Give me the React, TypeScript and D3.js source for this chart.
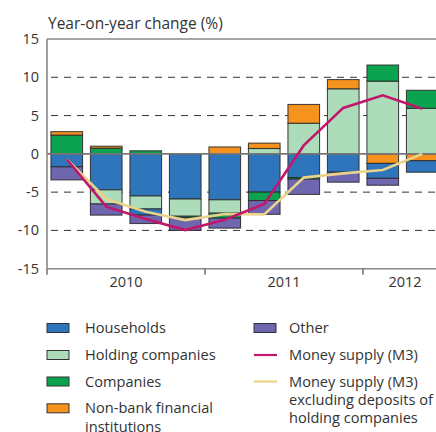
import React from "react";
import * as d3 from "d3";

const quarters = ["2010Q1","2010Q2","2010Q3","2010Q4","2011Q1","2011Q2","2011Q3","2011Q4","2012Q1","2012Q2"];
const households = [-1.7, -4.7, -5.5, -5.9, -6.0, -5.0, -3.1, -2.4, -1.95, -1.5];
const householdsLower = [0, 0, -0.8, 0, 0, 0, 0, 0, 0, 0];
const holding = [0, -1.85, -1.7, -2.25, -1.75, 0.7, 4.0, 8.5, 9.5, 5.95];
const companies = [2.45, 0.75, 0.4, -0.2, -0.65, -1.1, -0.2, 0, 2.1, 2.35];
const nbfi = [0.45, 0.25, 0, 0, 0.9, 0.7, 2.45, 1.2, -1.25, -0.9];
const other = [-1.7, -1.45, -1.1, -1.65, -1.3, -1.8, -2.0, -1.3, -0.9, 0];
const m3 = [-0.7, -6.9, -8.5, -9.95, -8.6, -6.55, 1.1, 6.0, 7.65, 5.9];
const m3Ex = [-0.7, -5.9, -7.55, -8.65, -7.85, -7.9, -3.1, -2.55, -2.1, 0.0];
const years = ["2010", "2011", "2012"];
const yearStart = [0, 4, 8];
const yTicks = [15, 10, 5, 0, -5, -10, -15];

const C = {
  households: "#2e75bc",
  holding: "#addcbb",
  companies: "#0ba350",
  nbfi: "#f6921e",
  other: "#6f66b0",
  m3: "#c2166b",
  m3Ex: "#ead38a",
};

const FONT = "'Open Sans', sans-serif";

export default function App() {
  const W = 436, H = 432;
  const left = 47, right = 447, top = 39, bottom = 268.7;
  const x = d3.scaleBand<number>().domain(d3.range(quarters.length)).range([left, 442]).paddingInner(0.2).paddingOuter(0.1);
  const y = d3.scaleLinear().domain([-15, 15]).range([bottom, top]);
  const step = x.step();

  const seriesMap: Record<string, number[]> = { households, householdsLower, holding, companies, nbfi, other };
  const colorOf: Record<string, string> = { households: C.households, householdsLower: C.households, holding: C.holding, companies: C.companies, nbfi: C.nbfi, other: C.other };
  const posKeys = ["holding", "companies", "nbfi"];
  const negKeys = ["nbfi", "households", "holding", "householdsLower", "companies", "other"];
  const rows = quarters.map((q, i) => {
    const r: any = { q };
    Object.keys(seriesMap).forEach(k => { r[k] = seriesMap[k][i]; });
    return r;
  });
  const posStack = d3.stack<any>().keys(posKeys).value((d, k) => Math.max(0, d[k]))(rows);
  const negStack = d3.stack<any>().keys(negKeys).value((d, k) => Math.min(0, d[k])).offset(d3.stackOffsetDiverging)(rows);

  const segs: { key: string; i: number; y0: number; y1: number }[] = [];
  [...posStack, ...negStack].forEach(s => {
    s.forEach((p, i) => {
      if (Math.abs(p[1] - p[0]) > 1e-9) segs.push({ key: s.key, i, y0: p[0], y1: p[1] });
    });
  });

  const line = d3.line<number>().x((_, i) => (x(i) as number) + x.bandwidth() / 2).y(d => y(d));

  const boundary = (i: number) => (x(i) as number) - step * 0.1;
  const yearEdges = [...yearStart.map(boundary), right];

  const legendLeft = [
    { label: ["Households"], color: C.households, y: 328 },
    { label: ["Holding companies"], color: C.holding, y: 355 },
    { label: ["Companies"], color: C.companies, y: 381.5 },
    { label: ["Non-bank financial", "institutions"], color: C.nbfi, y: 408.3 },
  ];
  const legendRight = [
    { label: ["Other"], color: C.other, y: 328, type: "rect" },
    { label: ["Money supply (M3)"], color: C.m3, y: 355, type: "line" },
    { label: ["Money supply (M3)", "excluding deposits of", "holding companies"], color: C.m3Ex, y: 381.5, type: "line" },
  ];
  const LF = 14.6;

  return (
    <svg width={W} height={H} style={{ position: "absolute", left: 0, top: 0, background: "#fff" }} fontFamily={FONT}>
      <text x={48} y={28.5} fontSize={15.5} fill="#333">Year-on-year change (%)</text>
      {/* grid */}
      {yTicks.filter(t => Math.abs(t) !== 15 && t !== 0).map(t => (
        <line key={t} x1={left} x2={right} y1={y(t)} y2={y(t)} stroke="#333" strokeWidth={1} strokeDasharray="7,6" strokeDashoffset={-4} />
      ))}
      {/* bars */}
      {segs.map((s, k) => (
        <rect key={k} x={x(s.i)} width={x.bandwidth()} y={y(Math.max(s.y0, s.y1))} height={Math.abs(y(s.y0) - y(s.y1))}
          fill={colorOf[s.key]} stroke="#2a2a2a" strokeWidth={1.1} strokeOpacity={0.85} />
      ))}
      {/* frame */}
      <line x1={left} x2={right} y1={y(0)} y2={y(0)} stroke="#777" strokeWidth={1.6} />
      <line x1={left} x2={right} y1={y(15)} y2={y(15)} stroke="#888" strokeWidth={1.6} />
      <line x1={left} x2={right} y1={y(-15)} y2={y(-15)} stroke="#888" strokeWidth={1.6} />
      <line x1={left} x2={left} y1={y(15)} y2={y(-15)} stroke="#888" strokeWidth={1.6} />
      {yearEdges.slice(0, 3).map((e, i) => (
        <line key={i} x1={e} x2={e} y1={y(-15)} y2={y(-15) + 6} stroke="#666" strokeWidth={1.4} />
      ))}
      {years.map((yr, i) => (
        <text key={yr} x={(yearEdges[i] + yearEdges[i + 1]) / 2} y={286.5} fontSize={14.5} fill="#333" textAnchor="middle">{yr}</text>
      ))}
      {yTicks.map(t => (
        <text key={t} x={39} y={y(t) + 5} fontSize={14.5} fill="#333" textAnchor="end">{t}</text>
      ))}
      {/* lines */}
      <path d={line(m3Ex) || ""} fill="none" stroke={C.m3Ex} strokeWidth={2.6} strokeLinejoin="miter" />
      <path d={line(m3) || ""} fill="none" stroke={C.m3} strokeWidth={2.6} strokeLinejoin="miter" />
      {/* legend */}
      {legendLeft.map((l, i) => (
        <g key={i}>
          <rect x={47} y={l.y - 4.5} width={22} height={9} fill={l.color} stroke="#333" strokeWidth={1} />
          {l.label.map((t, j) => (
            <text key={j} x={85} y={l.y + 5 + j * 18.3} fontSize={LF} fill="#333">{t}</text>
          ))}
        </g>
      ))}
      {legendRight.map((l, i) => (
        <g key={i}>
          {l.type === "rect"
            ? <rect x={254} y={l.y - 4.5} width={22} height={9} fill={l.color} stroke="#333" strokeWidth={1} />
            : <line x1={254} x2={277} y1={l.y} y2={l.y} stroke={l.color} strokeWidth={2.2} />}
          {l.label.map((t, j) => (
            <text key={j} x={289} y={l.y + 5 + j * 18.3} fontSize={LF} fill="#333">{t}</text>
          ))}
        </g>
      ))}
    </svg>
  );
}
